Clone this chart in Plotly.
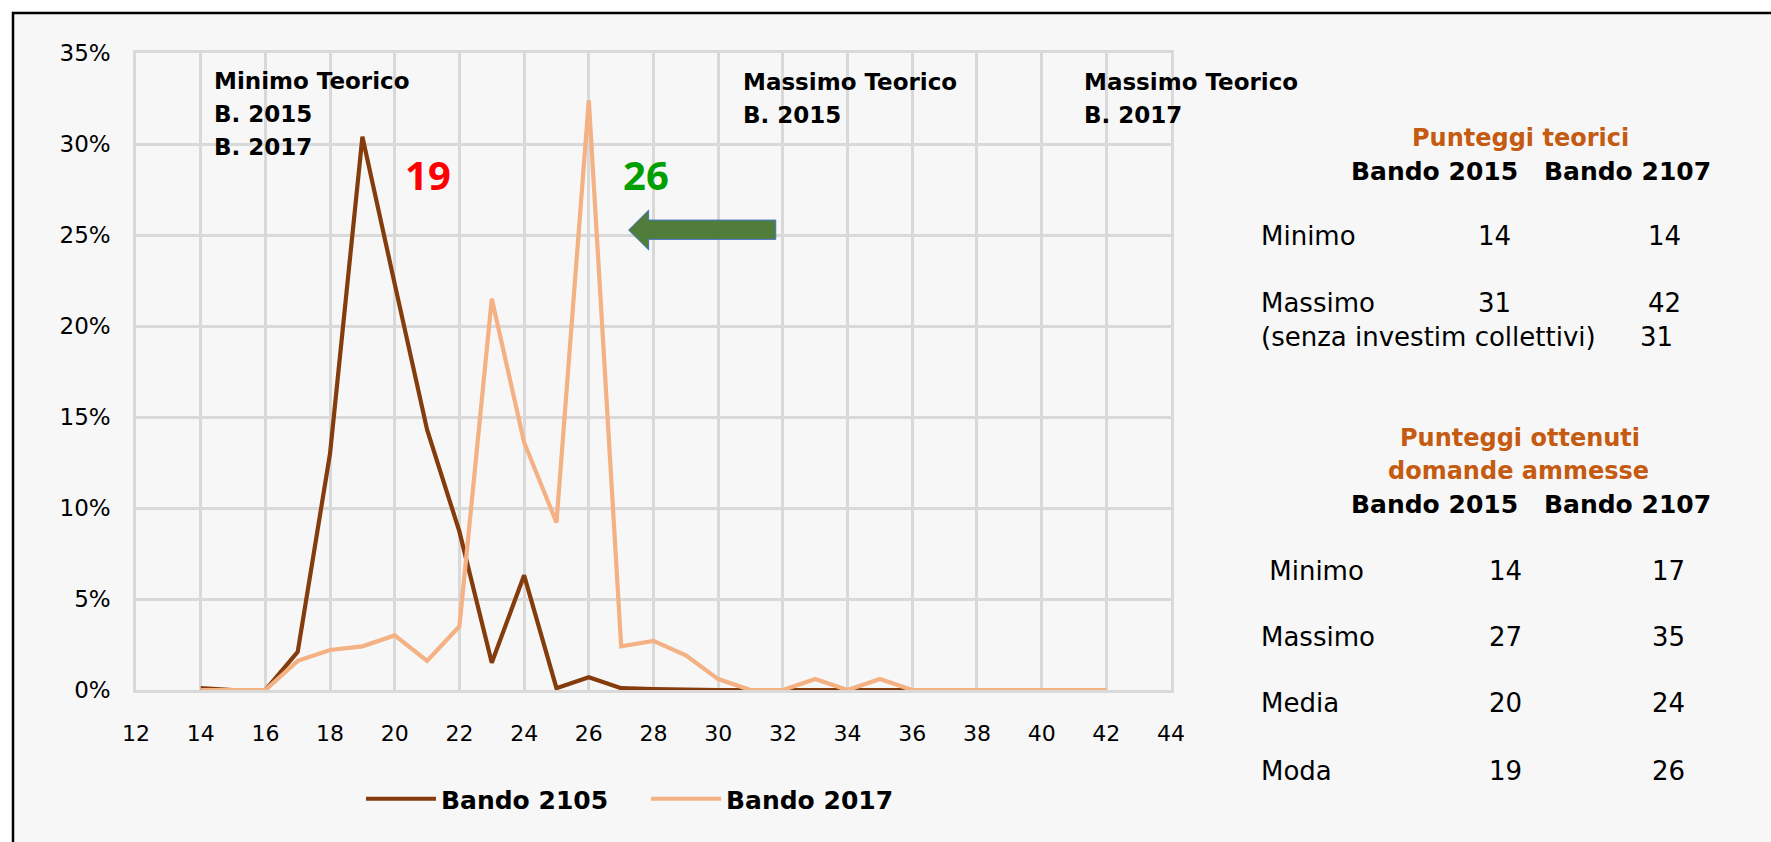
import plotly.graph_objects as go

# ---------------- data ----------------
scores_2015 = list(range(14, 37))
share_2015 = [0.1, 0, 0, 2.1, 13.0, 30.4, 22.3, 14.3, 8.7, 1.5, 6.3, 0.1, 0.7, 0.1,
              0.05, 0, 0, 0, 0, 0, 0, 0, 0]
scores_2017 = list(range(14, 43))
share_2017 = [0, 0, 0, 1.6, 2.2, 2.4, 3.0, 1.6, 3.5, 21.5, 13.6, 9.2, 32.4, 2.4,
              2.7, 1.9, 0.6, 0, 0, 0.6, 0, 0.6, 0, 0, 0, 0, 0, 0, 0]
series_names = ["Bando 2105", "Bando 2017"]
series_colors = ["#843C0C", "#F4B183"]

x_ticks = list(range(12, 45, 2))
y_ticks_pct = [0, 5, 10, 15, 20, 25, 30, 35]

theory_title = "Punteggi teorici"
obtained_title = ["Punteggi ottenuti", "domande ammesse"]
col_headers = ["Bando 2015", "Bando 2107"]
theory_rows = [("Minimo", "14", "14"), ("Massimo", "31", "42")]
theory_note = ("(senza investim collettivi)", "31")
obtained_rows = [(" Minimo", "14", "17"), ("Massimo", "27", "35"),
                 ("Media", "20", "24"), ("Moda", "19", "26")]

mode_2015, mode_2017 = "19", "26"

# ---------------- layout geometry ----------------
W, H = 1771, 842
L, R, T, B = 136, 1171, 53, 690


def px(X):
    return (X - L) / (R - L)


def py(Y):
    return (B - Y) / (B - T)


FONT = "DejaVu Sans"

fig = go.Figure()
fig.add_trace(go.Scatter(x=scores_2015, y=[v / 100 for v in share_2015], mode="lines",
                         name=series_names[0], line=dict(color=series_colors[0], width=4.2)))
fig.add_trace(go.Scatter(x=scores_2017, y=[v / 100 for v in share_2017], mode="lines",
                         name=series_names[1], line=dict(color=series_colors[1], width=4.2)))

annotations = []


def txt(text, X, Y, size, color="black", bold=False, anchor="left", family=FONT):
    t = f"<b>{text}</b>" if bold else text
    annotations.append(dict(text=t, x=px(X), y=py(Y), xref="paper", yref="paper",
                            xanchor=anchor, yanchor="middle", showarrow=False,
                            font=dict(size=size, color=color, family=family)))


# chart notes
for i, line in enumerate(["Minimo Teorico", "B. 2015", "B. 2017"]):
    txt(line, 212, [81, 114, 147][i], 23, bold=True)
for i, line in enumerate(["Massimo Teorico", "B. 2015"]):
    txt(line, 741, [82, 115][i], 23, bold=True)
for i, line in enumerate(["Massimo Teorico", "B. 2017"]):
    txt(line, 1082, [82, 115][i], 23, bold=True)
txt(mode_2015, 428, 174, 40, color="#FF0000", bold=True, anchor="center", family="Noto Sans")
txt(mode_2017, 646, 174, 40, color="#00A000", bold=True, anchor="center", family="Noto Sans")

# right-hand table
ORANGE = "#C55A11"
txt(theory_title, 1520, 138, 24, color=ORANGE, bold=True, anchor="center")
txt(col_headers[0], 1349, 171, 25, bold=True)
txt(col_headers[1], 1542, 171, 25, bold=True)
for (lab, a, b), Y in zip(theory_rows, [236, 303]):
    txt(lab, 1259, Y, 26)
    txt(a, 1494, Y, 26, anchor="center")
    txt(b, 1664, Y, 26, anchor="center")
txt(theory_note[0], 1259, 337, 26)
txt(theory_note[1], 1656, 337, 26, anchor="center")

txt(obtained_title[0], 1520, 438, 24, color=ORANGE, bold=True, anchor="center")
txt(obtained_title[1], 1518, 471, 24, color=ORANGE, bold=True, anchor="center")
txt(col_headers[0], 1349, 504, 25, bold=True)
txt(col_headers[1], 1542, 504, 25, bold=True)
for (lab, a, b), Y in zip(obtained_rows, [571, 637, 703, 771]):
    txt(lab, 1259, Y, 26)
    txt(a, 1505, Y, 26, anchor="center")
    txt(b, 1668, Y, 26, anchor="center")

# arrow (data coordinates)
ax_tip, ax_base, ax_end = 27.23, 27.85, 31.78
ay_mid, ay_head_hi, ay_head_lo, ay_body_hi, ay_body_lo = 0.2527, 0.2637, 0.2418, 0.2582, 0.2476
arrow_path = (f"M {ax_tip},{ay_mid} L {ax_base},{ay_head_hi} L {ax_base},{ay_body_hi} "
              f"L {ax_end},{ay_body_hi} L {ax_end},{ay_body_lo} L {ax_base},{ay_body_lo} "
              f"L {ax_base},{ay_head_lo} Z")

shapes = [
    dict(type="rect", xref="paper", yref="paper", x0=px(13), x1=px(1850), y0=py(900), y1=py(13),
         fillcolor="#F7F7F7", line=dict(color="black", width=2.5), layer="below"),
    dict(type="path", xref="x", yref="y", path=arrow_path, fillcolor="#507D3A",
         line=dict(color="#4472C4", width=1), layer="above"),
]

GRID = "#D9D9D9"
fig.update_layout(
    width=W, height=H, autosize=False,
    margin=dict(l=L, r=W - R, t=T, b=H - B, pad=0),
    paper_bgcolor="white", plot_bgcolor="rgba(0,0,0,0)",
    font=dict(family=FONT, color="black"),
    annotations=annotations, shapes=shapes,
    showlegend=True,
    legend=dict(orientation="h", x=px(361), xanchor="left", y=py(799), yanchor="middle",
                font=dict(size=25, family=FONT, color="black", weight="bold"), itemwidth=70,
                entrywidth=200, entrywidthmode="pixels", bgcolor="rgba(0,0,0,0)",
                traceorder="normal"),
    xaxis=dict(range=[12, 44], tickvals=x_ticks, ticktext=[str(v) for v in x_ticks],
               showgrid=True, gridcolor=GRID, gridwidth=2.5, zeroline=False,
               showline=True, linecolor=GRID, linewidth=2.5, mirror=True,
               ticks="", ticklabelstandoff=22, tickfont=dict(size=22, family=FONT)),
    yaxis=dict(range=[0, 0.35], tickvals=[v / 100 for v in y_ticks_pct],
               ticktext=[f"{v}%" for v in y_ticks_pct],
               showgrid=True, gridcolor=GRID, gridwidth=2.5,
               zeroline=True, zerolinecolor="#C4C4C4", zerolinewidth=3.5,
               showline=True, linecolor=GRID, linewidth=2.5, mirror=True,
               ticks="", ticklabelstandoff=18, tickfont=dict(size=23, family=FONT)),
)

fig.write_html("out.html", config={"responsive": False, "displayModeBar": False},
               post_script="document.body.style.margin='0';document.body.style.overflow='hidden';")
